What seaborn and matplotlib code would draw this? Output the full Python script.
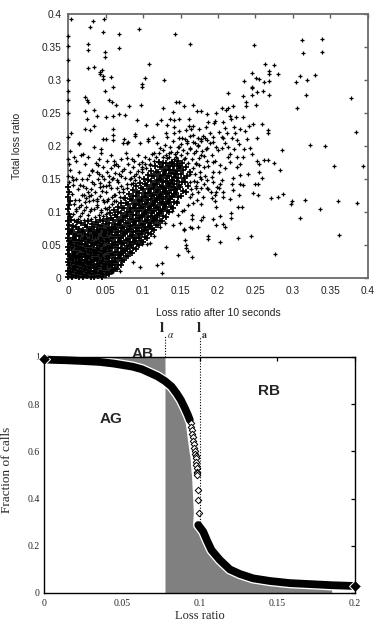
import numpy as np
import pandas as pd
import matplotlib
matplotlib.use("Agg")
import matplotlib.pyplot as plt
import seaborn as sns

# ---------------- top panel data (values in thousandths) ----------------
# dense core of the cloud (read strip by strip from the picture)
core_pts = [
    (0,2),(1,6),(0,11),(2,15),(1,19),(0,24),(1,29),(2,33),(0,37),(1,42),(0,47),(2,51),(1,56),(0,61),(1,66),(2,70),(0,75),(1,81),(0,86),(2,92),(1,97),(0,104),(1,110),(2,117),(0,123),(1,131),(0,138),
    (5,1),(7,5),(4,9),(6,14),(8,18),(5,22),(7,27),(4,31),(6,36),(8,40),(5,45),(7,50),(4,55),(6,60),(8,66),(5,72),(7,79),(4,88),
    (10,3),(12,7),(9,12),(11,16),(13,21),(10,25),(12,30),(9,34),(11,39),(13,44),(10,48),(12,53),(9,58),(11,64),(13,70),(10,77),(12,85),
    (15,2),(17,6),(14,10),(16,15),(18,19),(15,24),(17,28),(14,33),(16,37),(18,42),(15,47),(17,52),(14,57),(16,63),(18,69),(15,75),(17,83),
    (20,1),(22,5),(19,9),(21,14),(23,18),(20,23),(22,27),(19,32),(21,36),(23,41),(20,46),(22,51),(19,56),(21,61),(23,67),(20,73),(22,80),
    (25,3),(27,7),(24,12),(26,16),(28,21),(25,25),(27,30),(24,34),(26,39),(28,44),(25,49),(27,54),(24,59),(26,65),(28,71),(25,78),(27,86),
    (30,1),(32,6),(29,10),(31,15),(33,19),(30,24),(32,28),(29,33),(31,38),(33,43),(30,48),(32,53),(29,58),(31,63),(33,69),(30,75),(32,82),
    (35,2),(37,7),(34,11),(36,16),(38,21),(35,26),(37,30),(34,35),(36,40),(38,45),(35,50),(37,55),(34,60),(36,66),(38,72),(35,78),(37,85),
    (40,3),(42,8),(39,13),(41,18),(43,23),(40,28),(42,33),(39,38),(41,43),(43,48),(40,53),(42,58),(39,63),(41,69),(43,75),(40,81),(42,88),
    (45,2),(47,6),(44,11),(46,16),(48,21),(45,26),(47,31),(44,36),(46,41),(48,46),(45,51),(47,56),(44,61),(46,67),(48,73),(45,79),(47,86),
    (50,4),(52,9),(49,14),(51,19),(53,24),(50,29),(52,34),(49,39),(51,44),(53,49),(50,54),(52,59),(49,64),(51,70),(53,76),(50,82),(52,89),
    (55,6),(57,11),(54,16),(56,21),(58,26),(55,31),(57,36),(54,41),(56,46),(58,51),(55,56),(57,61),(54,66),(56,72),(58,78),(55,84),(57,91),(56,99),
    (60,10),(62,15),(59,20),(61,25),(63,30),(60,35),(62,40),(59,45),(61,50),(63,55),(60,60),(62,65),(59,70),(61,76),(63,82),(60,88),(62,95),(61,103),
    (65,14),(67,20),(64,25),(66,30),(68,35),(65,40),(67,45),(64,50),(66,55),(68,60),(65,65),(67,70),(64,75),(66,81),(68,87),(65,93),(67,100),(66,108),
    (70,20),(72,26),(69,31),(71,36),(73,41),(70,46),(72,51),(69,56),(71,61),(73,66),(70,71),(72,76),(69,81),(71,87),(73,93),(70,99),(72,106),(71,114),
    (75,27),(77,33),(74,38),(76,43),(78,48),(75,53),(77,58),(74,63),(76,68),(78,73),(75,78),(77,83),(74,88),(76,94),(78,100),(75,106),(77,113),(76,121),
    (80,33),(82,39),(79,44),(81,49),(83,54),(80,59),(82,64),(79,69),(81,74),(83,79),(80,84),(82,89),(79,94),(81,100),(83,106),(80,112),(82,119),(81,127),
    (85,38),(87,45),(84,50),(86,55),(88,60),(85,65),(87,70),(84,75),(86,80),(88,85),(85,90),(87,95),(84,100),(86,106),(88,112),(85,118),(87,125),(86,133),
    (90,44),(92,51),(89,56),(91,61),(93,66),(90,71),(92,76),(89,81),(91,86),(93,91),(90,96),(92,101),(89,106),(91,112),(93,118),(90,124),(92,131),(91,139),
    (95,50),(97,56),(94,61),(96,66),(98,71),(95,76),(97,81),(94,86),(96,91),(98,96),(95,101),(97,106),(94,111),(96,117),(98,123),(95,129),(97,136),(96,144),
    (100,55),(102,62),(99,67),(101,72),(103,77),(100,82),(102,87),(99,92),(101,97),(103,102),(100,107),(102,112),(99,117),(101,123),(103,129),(100,135),(102,142),(101,150),
    (105,61),(107,68),(104,73),(106,78),(108,83),(105,88),(107,93),(104,98),(106,103),(108,108),(105,113),(107,118),(104,123),(106,129),(108,135),(105,141),(107,148),(106,156),
    (110,67),(112,74),(109,79),(111,84),(113,89),(110,94),(112,99),(109,104),(111,109),(113,114),(110,119),(112,124),(109,129),(111,135),(113,141),(110,147),(112,154),(111,162),
    (115,73),(117,80),(114,86),(116,91),(118,96),(115,101),(117,106),(114,111),(116,116),(118,121),(115,126),(117,131),(114,136),(116,142),(118,148),(115,154),(117,161),(116,169),
    (120,80),(122,87),(119,93),(121,98),(123,103),(120,108),(122,113),(119,118),(121,123),(123,128),(120,133),(122,138),(119,143),(121,149),(123,155),(120,161),(122,168),(121,176),
    (125,86),(127,94),(124,100),(126,105),(128,110),(125,115),(127,120),(124,125),(126,130),(128,135),(125,140),(127,145),(124,150),(126,156),(128,162),(125,168),(127,175),
    (130,93),(132,101),(129,107),(131,112),(133,117),(130,122),(132,127),(129,132),(131,137),(133,142),(130,147),(132,152),(129,157),(131,163),(133,169),(130,175),
    (135,100),(137,108),(134,114),(136,119),(138,124),(135,129),(137,134),(134,139),(136,144),(138,149),(135,154),(137,159),(134,164),(136,170),(138,176),
    (140,106),(142,115),(139,122),(141,128),(143,133),(140,138),(142,143),(139,148),(141,153),(143,158),(140,163),(142,169),(139,175),
    (145,113),(147,122),(144,129),(146,135),(148,141),(145,147),(147,152),(144,157),(146,162),(148,167),(145,172),(147,178),
    (150,124),(153,132),(149,138),(152,145),(155,151),(150,157),(153,163),(149,169),(152,175),
    (157,130),(160,139),(156,146),(159,154),(162,161),(157,168),
]

# scattered points around the core
sparse_pts = [
    # thin tails of the strips
    (1,146),(0,155),(2,163),(1,172),(0,181),(2,193),(6,97),(8,112),(5,127),(7,148),(11,101),(9,118),(13,135),(16,94),(14,107),(18,126),(15,160),
    (21,88),(19,99),(23,115),(20,140),(22,172),(26,95),(24,108),(28,124),(25,150),(27,183),(31,90),(29,102),(33,118),(30,135),(32,162),
    (36,93),(34,104),(38,120),(35,142),(37,175),(41,96),(39,108),(43,125),(40,150),(46,94),(44,103),(48,115),(45,132),(47,168),
    (51,97),(49,106),(53,120),(50,140),(52,178),(54,108),(58,122),(55,145),(58,9),(58,14),(58,19),(59,112),(63,126),(60,152),
    (64,117),(68,130),(65,148),(67,170),(69,122),(73,135),(70,155),(74,130),(78,143),(75,165),(77,190),(79,136),(83,150),(80,172),
    (84,142),(88,155),(85,180),(89,148),(93,162),(94,153),(98,168),(99,160),(104,166),(109,172),(114,178),(126,183),(132,182),
    (135,183),(137,191),(141,181),(143,188),(144,184),(146,191),(148,198),(155,181),(150,187),(153,194),(151,203),
    (160,175),(156,182),(159,189),(162,196),(158,205),(164,135),(168,147),(163,157),(166,166),(170,174),(165,181),(168,189),(163,197),(167,206),
    (172,145),(176,160),(171,172),(175,182),(179,192),(173,200),(177,210),(183,155),(187,170),(182,185),(186,197),(190,205),
    # medium density just above / right of the band
    (152,212),(158,208),(163,215),(169,205),(174,201),(178,207),(183,212),(189,219),(193,206),(198,199),(201,221),(205,213),(210,205),
    (214,198),(212,219),(223,219),(228,203),(235,196),(236,222),(241,230),(184,196),(178,186),(171,192),(192,186),(196,178),(203,171),
    (209,166),(213,183),(221,195),(225,168),(186,178),(181,168),(175,171),(169,158),(177,150),(193,145),(199,138),(186,148),(170,140),
    (163,146),(165,128),(170,136),(174,130),(181,142),(185,136),(191,130),(196,126),(201,136),(205,148),(172,118),(178,112),(196,116),
    (160,110),(152,101),(147,95),
    (82,160),(86,168),(91,158),(95,173),(99,165),(103,172),(108,180),(112,188),(117,184),(121,190),(127,194),(131,186),(136,198),
    (76,152),(72,162),(68,157),(88,178),(93,186),(79,182),(70,180),(64,172),(57,166),(52,160),(48,150),(58,150),(36,131),(31,126),
    (26,130),(21,126),(16,141),(11,150),(6,141),(42,138),(51,131),(57,137),(65,137),
    # upper left
    (4,393),(33,389),(48,392),(29,380),(46,372),(68,370),(95,378),(143,369),(162,355),(27,355),(27,345),(49,343),(49,335),(68,349),(108,324),
    (26,318),(34,319),(45,315),(43,312),(43,309),(46,306),(57,305),(102,303),(128,300),(98,294),(98,289),(47,302),(49,283),(60,290),
    (22,274),(25,269),(27,267),(54,269),(58,267),(64,262),(81,261),(97,262),(127,258),(144,266),(148,266),(154,261),(166,262),(172,253),(178,253),(186,249),
    (23,253),(34,255),(25,241),(38,245),(50,244),(60,245),(68,248),(76,247),(92,240),(104,232),(124,240),(136,241),(142,239),(148,241),(161,241),
    (132,232),(142,229),(161,230),(167,230),(34,230),(23,226),(29,224),(60,226),(60,217),(89,218),(89,215),(113,214),(107,211),(130,219),(132,214),
    (142,220),(148,223),(157,224),(164,226),(175,226),(184,229),(4,219),(46,210),(51,210),(60,209),(75,211),(78,205),(15,204),(166,216),(173,212),
    (180,215),(186,209),(148,212),(156,210),
    (0,366),(0,351),(0,331),(0,300),(0,283),(0,270),(0,250),(0,214),
    (140,251),(118,233),(187,236),
    # above the band
    (106,207),(118,204),(123,197),(129,202),(134,189),(140,207),(147,199),(103,184),(114,189),(98,176),(109,171),(120,176),
    (15,203),(35,198),(44,195),(44,190),(57,186),(74,204),(80,206),(8,184),(10,177),(17,186),(20,188),(41,181),(61,178),(61,171),(63,159),
    (40,171),(39,161),(41,157),(45,154),(54,154),(28,156),(32,163),(19,150),(24,136),(32,146),(43,144),(46,139),(55,141),(66,146),(71,140),
    (84,151),(87,144),(15,118),(24,121),(28,116),(38,116),(38,111),(46,118),(52,116),(61,126),(61,116),(74,121),(17,111),(10,105),(21,103),
    (8,88),(13,90),(30,105),(44,100),(52,105),(96,204),(5,153),
    # below the band
    (176,153),(192,153),(178,136),(187,135),(163,123),(180,123),(167,113),(154,103),(165,95),(165,90),(180,93),(203,94),(149,83),(163,78),
    (174,78),(154,73),(156,58),(187,63),(187,59),(140,80),(138,102),(145,116),(160,41),(165,32),(147,35),(118,19),(125,22),(125,8),
    (109,53),(105,52),(98,52),(123,78),(129,84),(117,90),(114,63),(131,47),(87,25),(96,17),(69,11),(157,46),(157,50),(154,75),(165,76),
    (178,88),(228,126),
    # right part
    (248,353),(312,360),(338,362),(313,341),(338,343),(262,325),(275,322),(268,313),(268,309),(280,309),(245,310),(251,303),(254,302),
    (235,299),(261,297),(268,298),(309,306),(304,297),(318,300),(329,307),(246,290),(245,288),(252,282),(260,283),(268,278),(246,277),
    (233,276),(214,280),(317,277),(378,273),(237,267),(237,261),(251,262),(305,258),(206,257),(214,258),(220,260),(234,244),(247,234),
    (259,234),(266,225),(267,220),(384,221),(252,212),(285,194),(323,202),(342,200),(239,211),(243,197),(252,178),(261,179),(267,179),
    (274,175),(254,173),(283,164),(355,169),(394,169),(254,161),(258,152),(240,157),(249,143),(253,142),(271,121),(280,122),(287,128),
    (247,129),(253,126),(297,112),(299,116),(316,118),(336,105),(360,117),(385,114),(309,91),(361,65),(276,36),(244,64),(227,61),(202,54),
    (196,238),(195,235),(207,237),(197,250),(211,255),(216,245),(224,244),(218,241),(209,228),(222,229),(230,226),(194,214),(207,212),
    (219,212),(225,209),(205,197),(200,194),(216,188),(226,184),(233,184),(245,188),(194,176),(216,176),(230,172),(193,161),(201,161),
    (220,152),(230,156),(203,142),(219,142),(230,142),(198,131),(207,131),(220,133),(234,141),(192,121),(207,122),(216,120),(227,108),
    (232,107),(198,108),(217,98),(217,91),(194,90),(198,80),(207,82),(210,78),
]

top_ticks = [0, 0.05, 0.1, 0.15, 0.2, 0.25, 0.3, 0.35, 0.4]
top_tick_labels = ["0", "0.05", "0.1", "0.15", "0.2", "0.25", "0.3", "0.35", "0.4"]

# ---------------- bottom panel data ----------------
upper_x = [0.0, 0.005, 0.015, 0.025, 0.036, 0.045, 0.057, 0.063, 0.068, 0.073, 0.0778, 0.082, 0.0853, 0.088, 0.0906, 0.0925, 0.0938]
upper_y = [0.99, 0.988, 0.986, 0.983, 0.979, 0.972, 0.959, 0.948, 0.933, 0.918, 0.898, 0.875, 0.846, 0.818, 0.783, 0.755, 0.733]
mid_x = [0.0945, 0.0948, 0.0951, 0.0954, 0.0957, 0.0960, 0.0963, 0.0966, 0.0969, 0.0972, 0.0975,
         0.0976, 0.0978, 0.0979, 0.0981, 0.0982, 0.0984, 0.0985, 0.0990, 0.0993, 0.0997]
mid_y = [0.72, 0.705, 0.69, 0.675, 0.66, 0.645, 0.63, 0.615, 0.60, 0.59, 0.58,
         0.571, 0.556, 0.542, 0.528, 0.514, 0.507, 0.50, 0.436, 0.394, 0.338]
lower_x = [0.0992, 0.1024, 0.1050, 0.1077, 0.1131, 0.1195, 0.126, 0.1345, 0.1452, 0.158, 0.1731, 0.185, 0.2]
lower_y = [0.288, 0.26, 0.22, 0.182, 0.14, 0.100, 0.0805, 0.062, 0.051, 0.042, 0.037, 0.033, 0.0297]

l_alpha = 0.0778
l_a = 0.1
gray_end = 0.185

bottom_xticks = [0, 0.05, 0.1, 0.15, 0.2]
bottom_xtick_labels = ["0", "0.05", "0.1", "0.15", "0.2"]
bottom_yticks = [0, 0.2, 0.4, 0.6, 0.8, 1.0]
bottom_ytick_labels = ["0", "0.2", "0.4", "0.6", "0.8", "1"]

# ---------------- figure ----------------
sns.set_style("white")
plt.rcParams["mathtext.fontset"] = "stix"

fig = plt.figure(figsize=(3.77, 6.23), dpi=100)
W, H = 377.0, 623.0

# ----- top panel -----
ax1 = fig.add_axes([68 / W, 1 - 278 / H, 300 / W, 264 / H])
core = np.array(core_pts, dtype=float) / 1000.0
sparse = np.array(sparse_pts, dtype=float) / 1000.0
df_core = pd.DataFrame({"after10": core[:, 0], "total": core[:, 1]})
df_sparse = pd.DataFrame({"after10": sparse[:, 0], "total": sparse[:, 1]})
sns.scatterplot(data=df_core, x="after10", y="total", marker="+", color="black",
                s=24, linewidth=1.25, ax=ax1, legend=False, clip_on=False, zorder=3)
sns.scatterplot(data=df_sparse, x="after10", y="total", marker="+", color="black",
                s=12, linewidth=0.9, ax=ax1, legend=False, clip_on=False, zorder=3)
ax1.set_xlim(0, 0.4)
ax1.set_ylim(0, 0.4)
sans = "Liberation Sans"
ax1.set_xticks(top_ticks)
ax1.set_xticklabels(top_tick_labels, fontfamily=sans, fontsize=7.3)
ax1.set_yticks(top_ticks)
ax1.set_yticklabels(top_tick_labels, fontfamily=sans, fontsize=7.3)
ax1.tick_params(direction="in", top=True, right=True, length=3, width=1.0,
                color="#606060", labelcolor="#222222")
ax1.tick_params(axis="x", pad=5.5)
ax1.tick_params(axis="y", pad=4.5)
for sp in ax1.spines.values():
    sp.set_color("#6a6a6a")
    sp.set_linewidth(1.3)
ax1.set_xlabel("Loss ratio after 10 seconds", fontfamily=sans, fontsize=7.5, color="#222222")
ax1.set_ylabel("Total loss ratio", fontfamily=sans, fontsize=7.5, color="#222222")
ax1.xaxis.set_label_coords(0.5, -0.112)
ax1.yaxis.set_label_coords(-0.155, 0.5)

# ----- bottom panel -----
ax2 = fig.add_axes([44 / W, 1 - 593 / H, 311 / W, 236 / H])
cx = np.array(upper_x + mid_x + lower_x)
cy = np.array(upper_y + mid_y + lower_y)
gray = "#808080"
ax2.fill_between(cx, cy, 1.0, where=cx <= l_alpha, color=gray, linewidth=0, zorder=1)
ax2.fill_between(cx, 0.0, cy, where=(cx >= l_alpha) & (cx <= gray_end), color=gray, linewidth=0, zorder=1)

# white rim below the thick curve
sns.lineplot(x=cx, y=cy, color="white", linewidth=7.5, sort=False, estimator=None,
             ax=ax2, zorder=2, legend=False)
# thick dense parts
sns.lineplot(x=upper_x, y=upper_y, color="black", linewidth=5.6, sort=False, estimator=None,
             ax=ax2, zorder=3, legend=False, solid_capstyle="round",
             marker="D", markersize=6.5, markevery=[0], clip_on=False)
sns.lineplot(x=lower_x, y=lower_y, color="black", linewidth=5.6, sort=False, estimator=None,
             ax=ax2, zorder=3, legend=False, solid_capstyle="round",
             marker="D", markersize=6.5, markevery=[len(lower_x) - 1], clip_on=False)
# sparse open diamonds
sns.scatterplot(x=mid_x, y=mid_y, marker="D", s=11, facecolor="white", edgecolor="black",
                linewidth=0.7, ax=ax2, zorder=4, legend=False)

ax2.vlines(l_alpha, 1.0, 1.095, colors="black", linestyles=(0, (1, 1.5)), linewidth=0.8,
           clip_on=False, zorder=5)
ax2.vlines(l_a, 0.29, 1.085, colors="black", linestyles=(0, (1, 1.5)), linewidth=0.8,
           clip_on=False, zorder=5)

ax2.text(0.0739, 1.127, r"$\mathbf{l}$", fontsize=11, ha="left", va="center", clip_on=False)
ax2.text(0.0788, 1.092, r"$\alpha$", fontsize=7, ha="left", va="center", clip_on=False)
ax2.text(0.0975, 1.127, r"$\mathbf{l}$", fontsize=11, ha="left", va="center", clip_on=False)
ax2.text(0.1010, 1.092, r"$\mathbf{a}$", fontsize=7, ha="left", va="center", clip_on=False)

lab_kw = dict(fontfamily=sans, fontweight="bold", fontsize=11, ha="center", va="center", zorder=6)
ax2.text(0.043, 0.737, "AG", **lab_kw)
ax2.text(0.0636, 1.013, "AB", **lab_kw)
ax2.text(0.145, 0.856, "RB", **lab_kw)

ax2.set_xlim(0, 0.2)
ax2.set_ylim(0, 1)
serif = "Liberation Serif"
ax2.set_xticks(bottom_xticks)
ax2.set_xticklabels(bottom_xtick_labels, fontfamily=serif, fontsize=7)
ax2.set_yticks(bottom_yticks)
ax2.set_yticklabels(bottom_ytick_labels, fontfamily=serif, fontsize=7)
ax2.tick_params(direction="in", top=True, right=True, length=3, width=0.9, color="black")
ax2.tick_params(axis="x", pad=4)
ax2.tick_params(axis="y", pad=3)
for sp in ax2.spines.values():
    sp.set_color("black")
    sp.set_linewidth(1.0)
    sp.set_zorder(7)
ax2.set_xlabel("Loss ratio", fontfamily=serif, fontsize=9)
ax2.set_ylabel("Fraction of calls", fontfamily=serif, fontsize=9.5)
ax2.xaxis.set_label_coords(0.5, -0.072)
ax2.yaxis.set_label_coords(-0.1, 0.52)

fig.savefig("out.png", dpi=100)
